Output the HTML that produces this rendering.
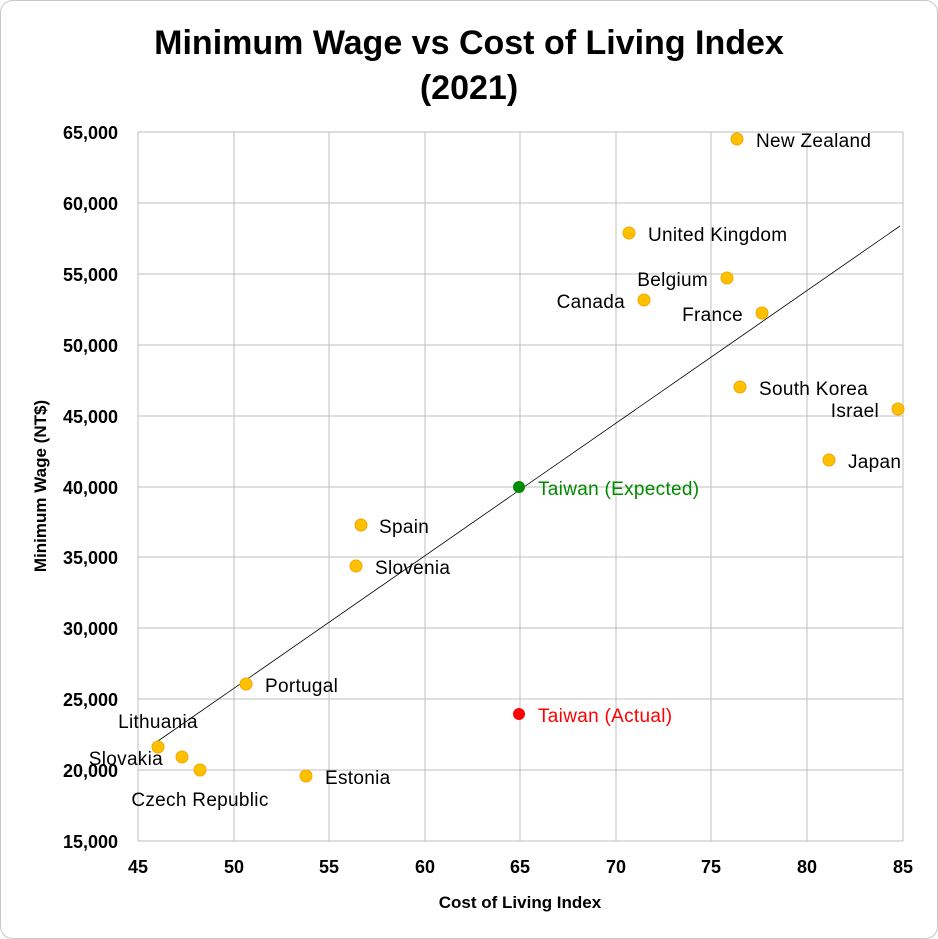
<!DOCTYPE html>
<html><head><meta charset="utf-8"><style>
html,body{margin:0;padding:0;background:#fff;}
svg{display:block;}
text{font-family:"Liberation Sans",sans-serif;}
</style></head><body>
<svg width="938" height="939" viewBox="0 0 938 939" xmlns="http://www.w3.org/2000/svg">
<rect x="0.5" y="0.5" width="937" height="938" rx="12" fill="#fff" stroke="#c8c8c8"/>
<text x="469" y="54" text-anchor="middle" font-size="34" font-weight="bold" fill="#000">Minimum Wage vs Cost of Living Index</text>
<text x="469" y="99" text-anchor="middle" font-size="34" font-weight="bold" fill="#000">(2021)</text>
<g stroke="#bfbfbf" stroke-width="1">
<line x1="138" y1="132" x2="138" y2="841"/><line x1="234" y1="132" x2="234" y2="841"/><line x1="329" y1="132" x2="329" y2="841"/><line x1="425" y1="132" x2="425" y2="841"/><line x1="520" y1="132" x2="520" y2="841"/><line x1="616" y1="132" x2="616" y2="841"/><line x1="711" y1="132" x2="711" y2="841"/><line x1="807" y1="132" x2="807" y2="841"/><line x1="903" y1="132" x2="903" y2="841"/>
<line x1="138" y1="132" x2="903" y2="132"/><line x1="138" y1="203" x2="903" y2="203"/><line x1="138" y1="274" x2="903" y2="274"/><line x1="138" y1="345" x2="903" y2="345"/><line x1="138" y1="416" x2="903" y2="416"/><line x1="138" y1="487" x2="903" y2="487"/><line x1="138" y1="557" x2="903" y2="557"/><line x1="138" y1="628" x2="903" y2="628"/><line x1="138" y1="699" x2="903" y2="699"/><line x1="138" y1="770" x2="903" y2="770"/><line x1="138" y1="841" x2="903" y2="841"/>
</g>
<g font-size="18" font-weight="bold" text-anchor="end" fill="#000">
<text x="118" y="139">65,000</text><text x="118" y="210">60,000</text><text x="118" y="281">55,000</text><text x="118" y="352">50,000</text><text x="118" y="423">45,000</text><text x="118" y="494">40,000</text><text x="118" y="564">35,000</text><text x="118" y="635">30,000</text><text x="118" y="706">25,000</text><text x="118" y="777">20,000</text><text x="118" y="848">15,000</text>
</g>
<g font-size="18" font-weight="bold" text-anchor="middle" fill="#000">
<text x="138" y="873">45</text><text x="234" y="873">50</text><text x="329" y="873">55</text><text x="425" y="873">60</text><text x="520" y="873">65</text><text x="616" y="873">70</text><text x="711" y="873">75</text><text x="807" y="873">80</text><text x="903" y="873">85</text>
</g>
<text x="520" y="908" text-anchor="middle" font-size="17" font-weight="bold">Cost of Living Index</text>
<text transform="translate(46,486) rotate(-90)" text-anchor="middle" font-size="17" font-weight="bold">Minimum Wage (NT$)</text>
<line x1="158" y1="741" x2="900" y2="226" stroke="#000" stroke-width="0.8"/>
<g fill="#ffc000" stroke="#f0a800" stroke-width="1">
<circle cx="737" cy="139" r="6"/><circle cx="629" cy="233" r="6"/><circle cx="727" cy="278" r="6"/><circle cx="644" cy="300" r="6"/><circle cx="762" cy="313" r="6"/><circle cx="740" cy="387" r="6"/><circle cx="898" cy="409" r="6"/><circle cx="829" cy="460" r="6"/><circle cx="361" cy="525" r="6"/><circle cx="356" cy="566" r="6"/><circle cx="246" cy="684" r="6"/><circle cx="158" cy="747" r="6"/><circle cx="182" cy="757" r="6"/><circle cx="200" cy="770" r="6"/><circle cx="306" cy="776" r="6"/>
</g>
<circle cx="519" cy="487" r="6" fill="#008a00"/>
<circle cx="519" cy="714" r="6" fill="#ff0000"/>
<g font-size="19" fill="#000" letter-spacing="0.3">
<text x="756" y="147">New Zealand</text>
<text x="648" y="241">United Kingdom</text>
<text x="708" y="286" text-anchor="end">Belgium</text>
<text x="625" y="308" text-anchor="end">Canada</text>
<text x="743" y="321" text-anchor="end">France</text>
<text x="759" y="395">South Korea</text>
<text x="879" y="417" text-anchor="end">Israel</text>
<text x="848" y="468">Japan</text>
<text x="379" y="533">Spain</text>
<text x="375" y="574">Slovenia</text>
<text x="265" y="692">Portugal</text>
<text x="158" y="728" text-anchor="middle">Lithuania</text>
<text x="163" y="765" text-anchor="end">Slovakia</text>
<text x="200" y="806" text-anchor="middle">Czech Republic</text>
<text x="325" y="784">Estonia</text>
<text x="538" y="495" fill="#008a00">Taiwan (Expected)</text>
<text x="538" y="722" fill="#ff0000">Taiwan (Actual)</text>
</g>
</svg>
</body></html>
